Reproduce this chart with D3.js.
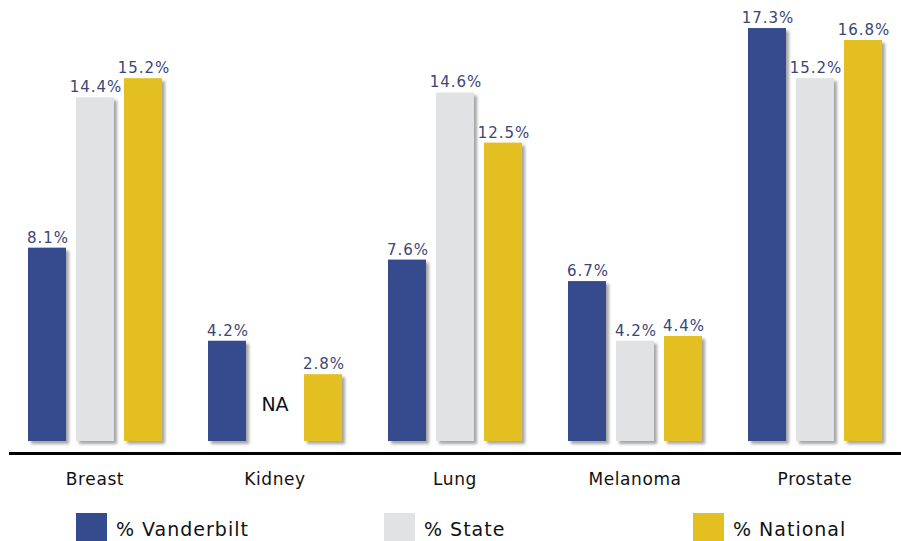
<!DOCTYPE html>
<html>
<head>
<meta charset="utf-8">
<script src="https://cdn.jsdelivr.net/npm/d3@7/dist/d3.min.js"></script>
<style>
  html, body { margin: 0; padding: 0; background: #ffffff; }
  svg { display: block; }
</style>
</head>
<body>
<svg id="chart" width="901" height="541"></svg>
<script>
// Cancer sites and the share of cases for each source
const categories = ["Breast", "Kidney", "Lung", "Melanoma", "Prostate"];
const seriesNames = ["% Vanderbilt", "% State", "% National"];
const vanderbilt = [8.1, 4.2, 7.6, 6.7, 17.3];
const state = [14.4, null, 14.6, 4.2, 15.2];
const national = [15.2, 2.8, 12.5, 4.4, 16.8];
const seriesColors = ["#344b8e", "#e1e2e4", "#e4bf22"];

const seriesValues = [vanderbilt, state, national];

const svg = d3.select("#chart");

// Drop shadow under each bar
const defs = svg.append("defs");
const shadow = defs.append("filter")
  .attr("id", "barShadow")
  .attr("x", "-20%").attr("y", "-10%")
  .attr("width", "150%").attr("height", "130%");
shadow.append("feDropShadow")
  .attr("dx", 3).attr("dy", 3)
  .attr("stdDeviation", 1.6)
  .attr("flood-color", "#000")
  .attr("flood-opacity", 0.35);

const x0 = d3.scaleBand()
  .domain(categories)
  .range([28, 882])
  .paddingInner(46 / 180)
  .paddingOuter(0);

const x1 = d3.scaleBand()
  .domain(seriesNames)
  .range([0, x0.bandwidth()])
  .paddingInner(10 / 48)
  .paddingOuter(0);

const y = d3.scaleLinear()
  .domain([0, 18])
  .range([441, 441 - 18 * 23.87]);

const color = d3.scaleOrdinal().domain(seriesNames).range(seriesColors);

// One row per category, holding the three series values
const rows = categories.map((c, i) => ({
  category: c,
  values: seriesNames.map((s, j) => ({ series: s, value: seriesValues[j][i] }))
}));

const groups = svg.append("g")
  .selectAll("g")
  .data(rows)
  .join("g")
  .attr("transform", d => `translate(${x0(d.category)},0)`);

groups.selectAll("rect")
  .data(d => d.values.filter(v => v.value != null))
  .join("rect")
  .attr("x", d => x1(d.series))
  .attr("width", x1.bandwidth())
  .attr("y", d => y(d.value))
  .attr("height", d => y(0) - y(d.value))
  .attr("fill", d => color(d.series))
  .attr("filter", "url(#barShadow)");

// Value labels above the bars
groups.selectAll("text.value")
  .data(d => d.values.filter(v => v.value != null))
  .join("text")
  .attr("class", "value")
  .attr("x", d => x1(d.series) + x1.bandwidth() / 2 + 1)
  .attr("y", d => y(d.value) - 5)
  .attr("text-anchor", "middle")
  .attr("font-family", "DejaVu Sans, Verdana, sans-serif")
  .attr("font-size", 15)
  .attr("letter-spacing", 1)
  .attr("fill", "#3b4677")
  .text(d => d.value.toFixed(1) + "%");

// Missing value marker
groups.selectAll("text.na")
  .data(d => d.values.filter(v => v.value == null))
  .join("text")
  .attr("class", "na")
  .attr("x", d => x1(d.series) + x1.bandwidth() / 2)
  .attr("y", 411)
  .attr("text-anchor", "middle")
  .attr("font-family", "DejaVu Sans, Verdana, sans-serif")
  .attr("font-size", 19)
  .attr("fill", "#111")
  .text("NA");

// Baseline
svg.append("line")
  .attr("x1", 9).attr("x2", 901)
  .attr("y1", 453.5).attr("y2", 453.5)
  .attr("stroke", "#000")
  .attr("stroke-width", 3);

// Category labels
const xAxis = svg.append("g")
  .attr("transform", "translate(0,455)")
  .call(d3.axisBottom(x0).tickSize(0).tickPadding(0));
xAxis.select(".domain").remove();
xAxis.selectAll("text")
  .attr("dy", 0)
  .attr("y", 30)
  .attr("font-family", "DejaVu Sans, Verdana, sans-serif")
  .attr("font-size", 17)
  .attr("letter-spacing", 0.6)
  .attr("fill", "#111");

// Legend
const legendX = [76, 384, 693];
const legend = svg.append("g")
  .selectAll("g")
  .data(seriesNames)
  .join("g")
  .attr("transform", (d, i) => `translate(${legendX[i]},513)`);
legend.append("rect")
  .attr("width", 31).attr("height", 28)
  .attr("fill", d => color(d));
legend.append("text")
  .attr("x", 40).attr("y", 23)
  .attr("font-family", "DejaVu Sans, Verdana, sans-serif")
  .attr("font-size", 19)
  .attr("letter-spacing", 1)
  .attr("fill", "#111")
  .text(d => d);
</script>
</body>
</html>
